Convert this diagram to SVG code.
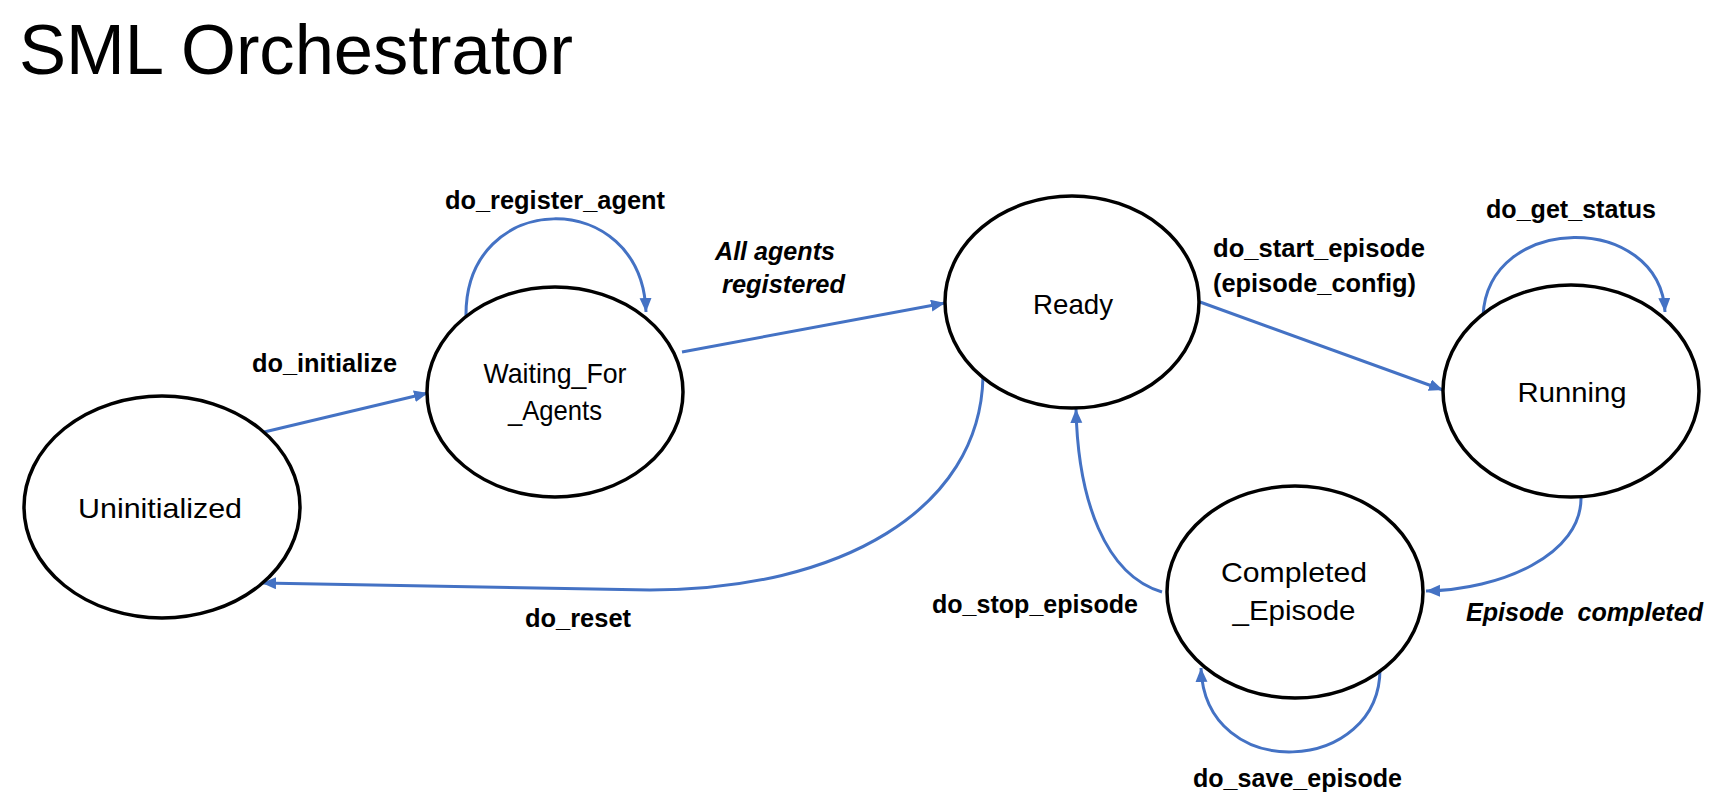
<svg xmlns="http://www.w3.org/2000/svg" width="1712" height="811" viewBox="0 0 1712 811">
<style>
.node{fill:#fff;stroke:#000;stroke-width:3.5}
.nl{font-family:"Liberation Sans",Arial,sans-serif;font-size:28px;fill:#000}
.el{font-family:"Liberation Sans",Arial,sans-serif;font-size:25px;font-weight:bold;fill:#000}
.it{font-style:italic}
.edge{fill:none;stroke:#4472C4;stroke-width:3}
</style>
<defs>
<marker id="ah" markerUnits="userSpaceOnUse" markerWidth="16" markerHeight="14" refX="14" refY="6" orient="auto">
<path d="M0,0 L14,6 L0,12 Z" fill="#4472C4"/>
</marker>
</defs>
<rect width="1712" height="811" fill="#fff"/>
<text x="19" y="74" font-family="'Liberation Sans',Arial,sans-serif" font-size="70" textLength="554" lengthAdjust="spacingAndGlyphs">SML Orchestrator</text>

<g id="connectors">
<path class="edge" d="M260,433 L428,393" marker-end="url(#ah)"/>
<path class="edge" d="M682,352 L945,303" marker-end="url(#ah)"/>
<path class="edge" d="M466,317 C464,188 642,186 646,312" marker-end="url(#ah)"/>
<path class="edge" d="M1200,302 L1443,390" marker-end="url(#ah)"/>
<path class="edge" d="M1483,316 C1488,212 1660,212 1665,312" marker-end="url(#ah)"/>
<path class="edge" d="M1581,496 C1583,555 1500,590 1426,591" marker-end="url(#ah)"/>
<path class="edge" d="M1162,592 C1105,575 1078,500 1076,409" marker-end="url(#ah)"/>
<path class="edge" d="M1380,667 C1382,775 1205,785 1201,668" marker-end="url(#ah)"/>
<path class="edge" d="M983,377 C980,510 840,590 650,590 L262,583" marker-end="url(#ah)"/>
</g>

<g id="uninitialized">
<ellipse class="node" cx="162" cy="507" rx="138" ry="111"/>
<text class="nl" x="160" y="518" text-anchor="middle" textLength="164" lengthAdjust="spacingAndGlyphs">Uninitialized</text>
</g>
<g id="waiting_for_agents">
<ellipse class="node" cx="555" cy="392" rx="128" ry="105"/>
<text class="nl" x="555" y="383" text-anchor="middle" textLength="143" lengthAdjust="spacingAndGlyphs">Waiting_For</text>
<text class="nl" x="555" y="420" text-anchor="middle" textLength="94" lengthAdjust="spacingAndGlyphs">_Agents</text>
</g>
<g id="ready">
<ellipse class="node" cx="1072" cy="302" rx="127" ry="106"/>
<text class="nl" x="1073" y="314" text-anchor="middle" textLength="80" lengthAdjust="spacingAndGlyphs">Ready</text>
</g>
<g id="running">
<ellipse class="node" cx="1571" cy="391" rx="128" ry="106"/>
<text class="nl" x="1572" y="402" text-anchor="middle" textLength="109" lengthAdjust="spacingAndGlyphs">Running</text>
</g>
<g id="completed_episode">
<ellipse class="node" cx="1295" cy="592" rx="128" ry="106"/>
<text class="nl" x="1294" y="582" text-anchor="middle" textLength="146" lengthAdjust="spacingAndGlyphs">Completed</text>
<text class="nl" x="1294" y="620" text-anchor="middle" textLength="123" lengthAdjust="spacingAndGlyphs">_Episode</text>
</g>

<g id="edge-labels">
<text class="el" x="252" y="372" textLength="145" lengthAdjust="spacingAndGlyphs">do_initialize</text>
<text class="el" x="445" y="209" textLength="220" lengthAdjust="spacingAndGlyphs">do_register_agent</text>
<text class="el it" x="715" y="260" textLength="120" lengthAdjust="spacingAndGlyphs">All agents</text>
<text class="el it" x="722" y="293" textLength="123" lengthAdjust="spacingAndGlyphs">registered</text>
<text class="el" x="1213" y="257" textLength="212" lengthAdjust="spacingAndGlyphs">do_start_episode</text>
<text class="el" x="1213" y="292" textLength="203" lengthAdjust="spacingAndGlyphs">(episode_config)</text>
<text class="el" x="1486" y="218" textLength="170" lengthAdjust="spacingAndGlyphs">do_get_status</text>
<text class="el" x="525" y="627" textLength="106" lengthAdjust="spacingAndGlyphs">do_reset</text>
<text class="el" x="932" y="613" textLength="206" lengthAdjust="spacingAndGlyphs">do_stop_episode</text>
<text class="el it" x="1466" y="621" textLength="237" lengthAdjust="spacingAndGlyphs" xml:space="preserve">Episode  completed</text>
<text class="el" x="1193" y="787" textLength="209" lengthAdjust="spacingAndGlyphs">do_save_episode</text>
</g>
</svg>
